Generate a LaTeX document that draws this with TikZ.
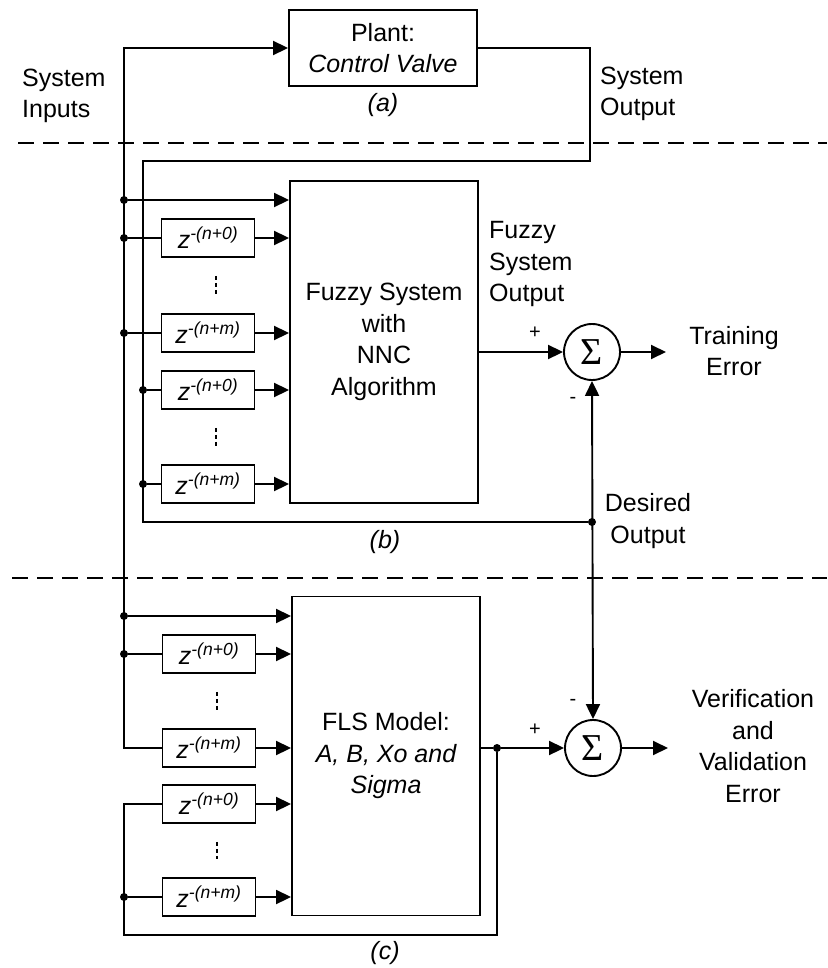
\documentclass[tikz,border=0pt]{standalone}
\usepackage{fontspec}
\setmainfont{Liberation Sans}
\newfontfamily\sigmafont{Liberation Serif}
\usetikzlibrary{arrows.meta,calc}
\newcommand{\zexp}[1]{\textit{z}\textsuperscript{\itshape -(n+#1)}}
\begin{document}
\begin{tikzpicture}[x=1pt,y=-1pt,
  every node/.style={font=\fontsize{25}{31.5}\selectfont, inner sep=0pt},
  ln/.style={line width=1.9pt},
  arr/.style={ln,-{Triangle[length=15pt,width=14pt]}},
  blk/.style={draw,ln,rectangle,minimum width=188pt},
  zbox/.style={draw,ln,rectangle,minimum width=93pt,minimum height=38pt},
  sumnode/.style={draw,ln,circle,minimum size=56pt,font=\sigmafont\fontsize{38}{38}\selectfont},
  jdot/.style={circle,fill,inner sep=0pt,minimum size=8pt},
  sep/.style={line width=1.4pt,dash pattern=on 16pt off 9pt},
  vd/.style={line width=1.6pt,dash pattern=on 4pt off 3pt},
  pm/.style={font=\fontsize{20}{20}\selectfont}
]
\useasboundingbox (0,0) rectangle (827,968);

% separators
\draw[sep] (18,143) -- (827,143);
\draw[sep] (12,578) -- (827,578);

% blocks
\node[blk,minimum height=76pt,align=center] (plant) at (383,48) {Plant:\\\itshape Control Valve};
\node[blk,minimum height=322pt,align=center] (fuzzy) at (384,342) {Fuzzy System\\with\\NNC\\Algorithm};
\node[blk,minimum height=319pt,align=center] (fls) at (386,756) {FLS Model:\\\itshape A, B, Xo and\\\itshape Sigma};

% delay boxes (b)
\node[zbox] (zb1) at (208,238) {\zexp{0}};
\node[zbox] (zb2) at (208,333) {\zexp{m}};
\node[zbox] (zb3) at (208,390) {\zexp{0}};
\node[zbox] (zb4) at (208,484) {\zexp{m}};
% delay boxes (c)
\node[zbox] (zc1) at (209,654) {\zexp{0}};
\node[zbox] (zc2) at (209,748) {\zexp{m}};
\node[zbox] (zc3) at (209,804) {\zexp{0}};
\node[zbox] (zc4) at (209,897) {\zexp{m}};

% summing junctions
\node[sumnode] (s1) at (592,352) {Σ};
\node[sumnode] (s2) at (593,748) {Σ};

% junction dots
\node[jdot] (d1) at (124,200) {};
\node[jdot] (d2) at (124,238) {};
\node[jdot] (d3) at (124,333) {};
\node[jdot] (d5) at (143,390) {};
\node[jdot] (d6) at (143,484) {};
\node[jdot] (dsr) at (592,522) {};
\node[jdot] (e1) at (124,616) {};
\node[jdot] (e2) at (124,654) {};
\node[jdot] (e3) at (124,897) {};
\node[jdot] (fb) at (497,748) {};

\coordinate (top) at (124,48);
\coordinate (so1) at (590,48);
\coordinate (so2) at (590,161);
\coordinate (so3) at (143,161);
\coordinate (so4) at (143,522);
\coordinate (lowc) at (124,935);
\coordinate (t1) at (666,352);
\coordinate (t2) at (668,748);

% system input bus
\draw[arr] (zc2.west) -| (top) -- (plant.west);
% system output / desired output
\draw[ln] (plant.east) -- (so1) -- (so2) -- (so3) -- (so4) -- (dsr);

% section (b) rows
\draw[arr] (d1) -- (d1 -| fuzzy.west);
\draw[ln] (d2) -- (zb1.west);
\draw[ln] (d3) -- (zb2.west);
\draw[ln] (d5) -- (zb3.west);
\draw[ln] (d6) -- (zb4.west);
\foreach \z in {zb1,zb2,zb3,zb4} \draw[arr] (\z.east) -- (\z.east -| fuzzy.west);

% section (c) rows
\draw[arr] (e1) -- (e1 -| fls.west);
\draw[ln] (e2) -- (zc1.west);
\draw[ln] (fb) |- (lowc) |- (zc3.west);
\draw[ln] (e3) -- (zc4.west);
\foreach \z in {zc1,zc2,zc3,zc4} \draw[arr] (\z.east) -- (\z.east -| fls.west);

% vertical ellipses
\draw[vd] ([xshift=8pt,yshift=-18pt]zb1.south) -- ([xshift=8pt,yshift=18pt]zb2.north);
\draw[vd] ([xshift=8pt,yshift=-18pt]zb3.south) -- ([xshift=8pt,yshift=18pt]zb4.north);
\draw[vd] ([xshift=8pt,yshift=-18pt]zc1.south) -- ([xshift=8pt,yshift=18pt]zc2.north);
\draw[vd] ([xshift=8pt,yshift=-18pt]zc3.south) -- ([xshift=8pt,yshift=18pt]zc4.north);

% sums
\draw[arr] (s1 -| fuzzy.east) -- (s1.west);
\draw[arr] (s1.east) -- (t1);
\draw[ln,{Triangle[length=15pt,width=14pt]}-{Triangle[length=15pt,width=14pt]}] (s1.south) -- (s2.north);
\draw[ln] (fb -| fls.east) -- (fb);
\draw[arr] (fb) -- (s2.west);
\draw[arr] (s2.east) -- (t2);

% labels
\node[anchor=west,align=left] (sysin) at (22,96) {System\\Inputs};
\node[anchor=west,align=left] (sysout) at (600,94) {System\\Output};
\node (la) at (383,105) {\itshape (a)};
\node[anchor=west,align=left] (fso) at (489,264) {Fuzzy\\System\\Output};
\node[align=center] (te) at (734,351) {Training\\Error};
\node[align=center] (dout) at (648,521) {Desired\\Output};
\node (lbb) at (385,542) {\itshape (b)};
\node[align=center] (vve) at (753,746) {Verification\\and\\Validation\\Error};
\node (lcc) at (385,953) {\itshape (c)};
\node[pm] (p1) at (535,333) {+};
\node[pm] (m1) at (573,400) {-};
\node[pm] (p2) at (535,730) {+};
\node[pm] (m2) at (573,702) {-};
\end{tikzpicture}
\end{document}
